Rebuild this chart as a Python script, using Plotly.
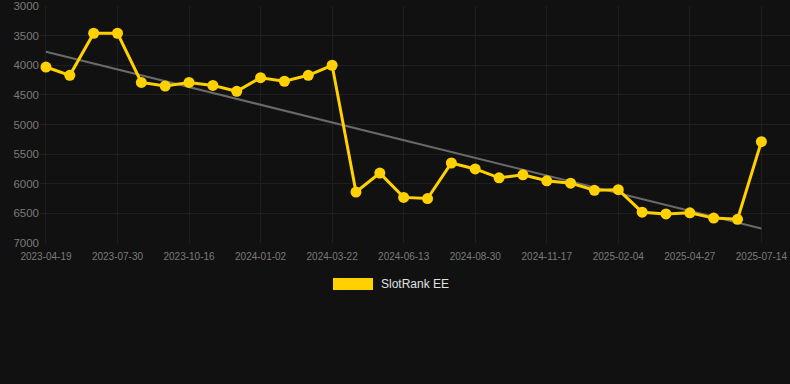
import numpy as np
import plotly.graph_objects as go

dates = [
    "2023-04-19", "2023-05-23", "2023-06-26", "2023-07-30", "2023-08-25", "2023-09-20",
    "2023-10-16", "2023-11-11", "2023-12-07", "2024-01-02", "2024-01-28", "2024-02-25",
    "2024-03-22", "2024-04-19", "2024-05-16", "2024-06-13", "2024-07-09", "2024-08-04",
    "2024-08-30", "2024-09-25", "2024-10-22", "2024-11-17", "2024-12-13", "2025-01-09",
    "2025-02-04", "2025-03-03", "2025-03-31", "2025-04-27", "2025-05-23", "2025-06-18",
    "2025-07-14",
]
rank = [
    4030, 4170, 3460, 3460, 4290, 4350, 4290, 4340, 4440, 4210, 4270, 4170, 4000,
    6140, 5820, 6230, 6250, 5650, 5750, 5900, 5850, 5950, 5990, 6110, 6100,
    6480, 6510, 6490, 6580, 6600, 5290,
]
tick_dates = dates[::3]
y_ticks = [3000, 3500, 4000, 4500, 5000, 5500, 6000, 6500, 7000]
series_name = "SlotRank EE"

idx = np.arange(len(rank))
slope, intercept = np.polyfit(idx, rank, 1)
trend = slope * idx + intercept

gold = "#FFD100"
fig = go.Figure()
fig.add_trace(go.Scatter(
    x=dates, y=trend, mode="lines",
    line=dict(color="#6a6a6a", width=2), hoverinfo="skip", showlegend=False,
))
fig.add_trace(go.Scatter(
    x=dates, y=rank, mode="lines+markers", name=series_name,
    line=dict(color=gold, width=3), marker=dict(color=gold, size=11),
    showlegend=False,
))

fig.update_layout(
    width=790, height=384,
    margin=dict(l=40, r=0, t=6, b=141),
    paper_bgcolor="#111111", plot_bgcolor="#111111",
    font=dict(family="Liberation Sans, Arial, sans-serif", color="#7a7a7a"),
    xaxis=dict(
        type="category", range=[-0.25, 31.2],
        tickmode="array", tickvals=tick_dates, ticktext=tick_dates,
        showgrid=True, gridcolor="#1f1f1f", gridwidth=1,
        zeroline=False, showline=False, ticks="",
        ticklabelstandoff=6, ticklabeloverflow="allow",
        tickfont=dict(size=10, color="#7a7a7a"),
    ),
    yaxis=dict(
        range=[7000, 3000], tickvals=y_ticks,
        showgrid=True, gridcolor="#1f1f1f", gridwidth=1,
        zeroline=False, showline=False, ticks="",
        ticklabeloverflow="allow",
        tickfont=dict(size=11.5, color="#7a7a7a"),
    ),
    shapes=[dict(
        type="rect", xref="paper", yref="paper",
        x0=(333 - 40) / 750, x1=(373 - 40) / 750,
        y0=(384 - 141 - 290) / 237, y1=(384 - 141 - 278) / 237,
        fillcolor=gold, line=dict(width=0),
    )],
    annotations=[dict(
        text=series_name, xref="paper", yref="paper",
        x=(379 - 40) / 750, y=(384 - 141 - 284) / 237,
        xanchor="left", yanchor="middle", showarrow=False,
        font=dict(size=12, color="#e0e0e0"),
    )],
)
fig.write_html(
    "out.html",
    config={"displayModeBar": False},
    post_script="document.body.style.margin='0';document.body.style.background='#111111';",
)
